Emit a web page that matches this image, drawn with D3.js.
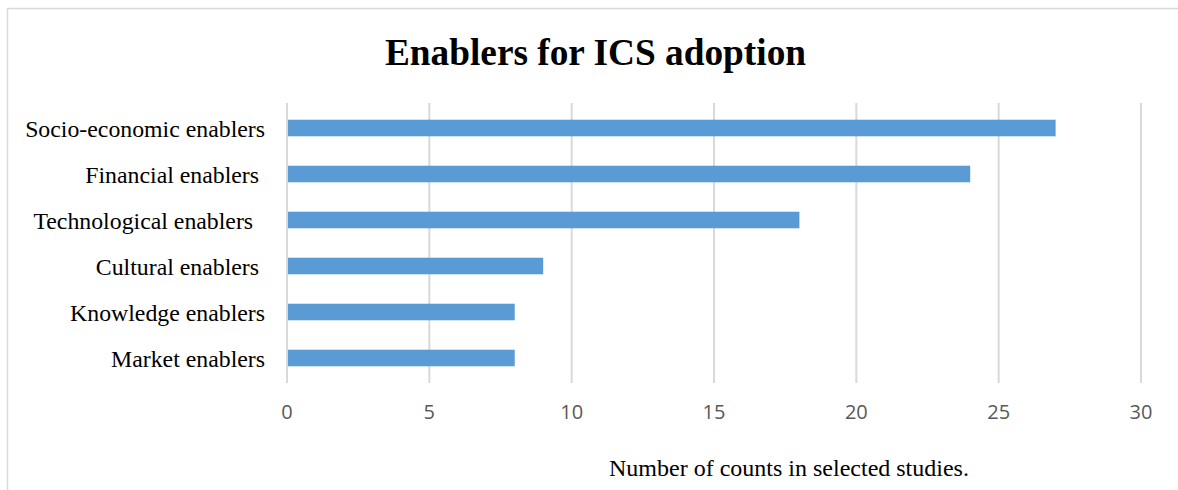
<!DOCTYPE html>
<html><head><meta charset="utf-8">
<script src="https://cdn.jsdelivr.net/npm/d3@7"></script>
<style>body{margin:0;background:#fff}svg{display:block}text{white-space:pre}</style>
</head><body>
<svg id="c" width="1178" height="490"></svg>
<script>
const categories = ["Socio-economic enablers","Financial enablers ","Technological enablers  ","Cultural enablers ","Knowledge enablers","Market enablers"];
const values = [27,24,18,9,8,8];
const tickValues = [0,5,10,15,20,25,30];

const svg = d3.select("#c");
svg.append("path").attr("d","M7.5,490V8.5H1178").attr("fill","none").attr("stroke","#d9d9d9").attr("stroke-width",1.5);

const x = d3.scaleLinear().domain([0,30]).range([287,1141]);
const y = d3.scaleBand().domain(categories).range([105,381]).paddingInner(0.64).paddingOuter(0.32);

svg.append("g").selectAll("line").data(tickValues).join("line")
  .attr("x1",d=>x(d)).attr("x2",d=>x(d)).attr("y1",103).attr("y2",383)
  .attr("stroke","#d9d9d9").attr("stroke-width",2);

svg.append("g").selectAll("rect").data(values).join("rect")
  .attr("x",x(0)+1).attr("y",(d,i)=>y(categories[i]))
  .attr("width",d=>x(d)-x(0)-1).attr("height",y.bandwidth())
  .attr("fill","#5b9bd5");

svg.append("g").selectAll("text").data(categories).join("text")
  .attr("x",265).attr("y",d=>y(d)+y.bandwidth()/2+8.5)
  .attr("text-anchor","end").attr("font-family","'Liberation Serif','Times New Roman',serif")
  .attr("font-size",23.8).attr("fill","#000").text(d=>d);

svg.append("g").selectAll("text").data(tickValues).join("text")
  .attr("x",d=>x(d)).attr("y",419).attr("text-anchor","middle")
  .attr("font-family","'Open Sans','Noto Sans',sans-serif").attr("font-size",20)
  .attr("fill","#595959").text(d=>d);

svg.append("text").attr("x",595.5).attr("y",65).attr("text-anchor","middle")
  .attr("font-family","'Liberation Serif','Times New Roman',serif").attr("font-weight","bold")
  .attr("font-size",37.3).attr("fill","#000").text("Enablers for ICS adoption");

svg.append("text").attr("x",789).attr("y",476).attr("text-anchor","middle")
  .attr("font-family","'Liberation Serif','Times New Roman',serif")
  .attr("font-size",24).attr("fill","#000").text("Number of counts in selected studies.");
</script>
</body></html>
